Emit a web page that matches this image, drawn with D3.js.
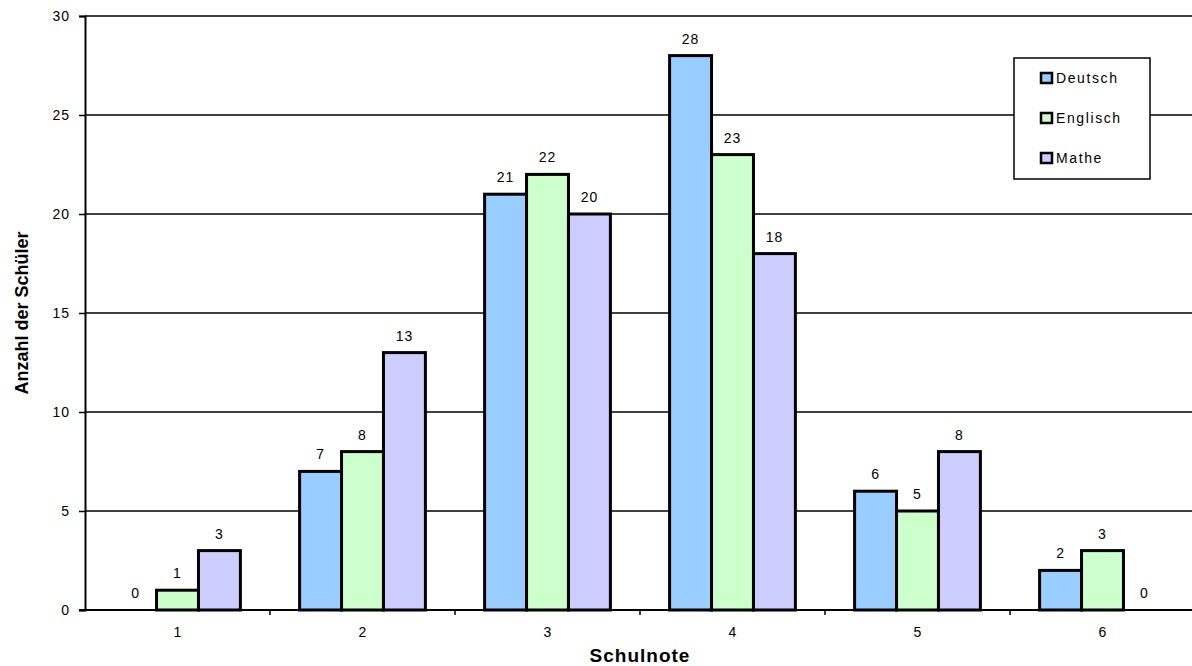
<!DOCTYPE html>
<html><head><meta charset="utf-8">
<script src="https://cdn.jsdelivr.net/npm/d3@7"></script>
<style>body{margin:0;background:#fff}svg{display:block;font-family:"Liberation Sans",Arial,sans-serif}</style>
</head><body><svg id="c" width="1192" height="666"></svg>
<script>
const categories = ["1","2","3","4","5","6"];
const seriesNames = ["Deutsch","Englisch","Mathe"];
const deutsch = [0,7,21,28,6,2];
const englisch = [1,8,22,23,5,3];
const mathe = [3,13,20,18,8,0];
const yTicks = [0,5,10,15,20,25,30];
const colors = ["#99CCFF","#CCFFCC","#CCCCFF"];
const seriesValues = [deutsch, englisch, mathe];

(function(){
const svg = d3.select("#c");
const mL = 85, mR = 1195, mT = 16, mB = 610;
const x = d3.scaleBand().domain(categories).range([mL, mR]).paddingInner(0.32).paddingOuter(0.16);
const xs = d3.scaleBand().domain(seriesNames).range([0, x.bandwidth()]);
const y = d3.scaleLinear().domain([0,30]).range([mB, mT]);

// gridlines
svg.append("g").selectAll("line").data(yTicks.filter(d=>d>0)).join("line")
  .attr("x1", mL).attr("x2", mR).attr("y1", d=>y(d)).attr("y2", d=>y(d))
  .attr("stroke","#000").attr("stroke-width",1.5);

// bars
const data = [];
categories.forEach((c,i)=>seriesNames.forEach((s,j)=>data.push({c, s, j, v: seriesValues[j][i]})));
svg.append("g").selectAll("rect").data(data.filter(d=>d.v>0)).join("rect")
  .attr("x", d=>x(d.c)+xs(d.s)).attr("width", xs.bandwidth())
  .attr("y", d=>y(d.v)).attr("height", d=>y(0)-y(d.v))
  .attr("fill", d=>colors[d.j]).attr("stroke","#000").attr("stroke-width",3);

// value labels
svg.append("g").selectAll("text").data(data).join("text")
  .attr("x", d=>x(d.c)+xs(d.s)+xs.bandwidth()/2).attr("y", d=>y(d.v)-12)
  .attr("text-anchor","middle").attr("font-size",14).attr("letter-spacing",1).attr("fill","#000")
  .text(d=>d.v);

// y axis
const yAxis = svg.append("g").attr("transform",`translate(${mL},0)`)
  .call(d3.axisLeft(y).tickValues(yTicks).tickSize(6).tickPadding(9));
yAxis.select(".domain").attr("stroke","#000").attr("stroke-width",2);
yAxis.selectAll(".tick line").attr("stroke","#000").attr("stroke-width",1.5);
yAxis.selectAll("text").attr("font-size",14).attr("letter-spacing",1).attr("fill","#000").attr("font-family","Liberation Sans, Arial, sans-serif");

// x axis
const xAxis = svg.append("g").attr("transform",`translate(0,${mB})`)
  .call(d3.axisBottom(x).tickSize(0).tickPadding(17));
xAxis.select(".domain").remove();
xAxis.selectAll("text").attr("font-size",14).attr("fill","#000").attr("font-family","Liberation Sans, Arial, sans-serif");
svg.append("line").attr("x1",mL-6).attr("x2",mR).attr("y1",mB).attr("y2",mB).attr("stroke","#000").attr("stroke-width",2);
// category separator ticks
svg.append("g").selectAll("line").data(categories.slice(1)).join("line")
  .attr("x1", d=>x(d)-x.step()*x.paddingInner()/2).attr("x2", d=>x(d)-x.step()*x.paddingInner()/2)
  .attr("y1", mB).attr("y2", mB+5).attr("stroke","#000").attr("stroke-width",1.5);

// titles
svg.append("text").attr("x",640).attr("y",662).attr("text-anchor","middle")
  .attr("font-size",19).attr("font-weight","bold").attr("letter-spacing",1).text("Schulnote");
svg.append("text").attr("transform","translate(28,313) rotate(-90)").attr("text-anchor","middle")
  .attr("font-size",18).attr("font-weight","bold").text("Anzahl der Schüler");

// legend
const lg = svg.append("g");
lg.append("rect").attr("x",1014).attr("y",58).attr("width",136).attr("height",121)
  .attr("fill","#fff").attr("stroke","#000").attr("stroke-width",1.5);
const li = lg.selectAll("g").data(seriesNames).join("g")
  .attr("transform",(d,i)=>`translate(1041,${78+i*40})`);
li.append("rect").attr("x",0).attr("y",-5).attr("width",11).attr("height",10)
  .attr("fill",(d,i)=>colors[i]).attr("stroke","#000").attr("stroke-width",2.5);
li.append("text").attr("x",15).attr("y",5).attr("font-size",14).attr("letter-spacing",1.6).text(d=>d);
})();
</script></body></html>
